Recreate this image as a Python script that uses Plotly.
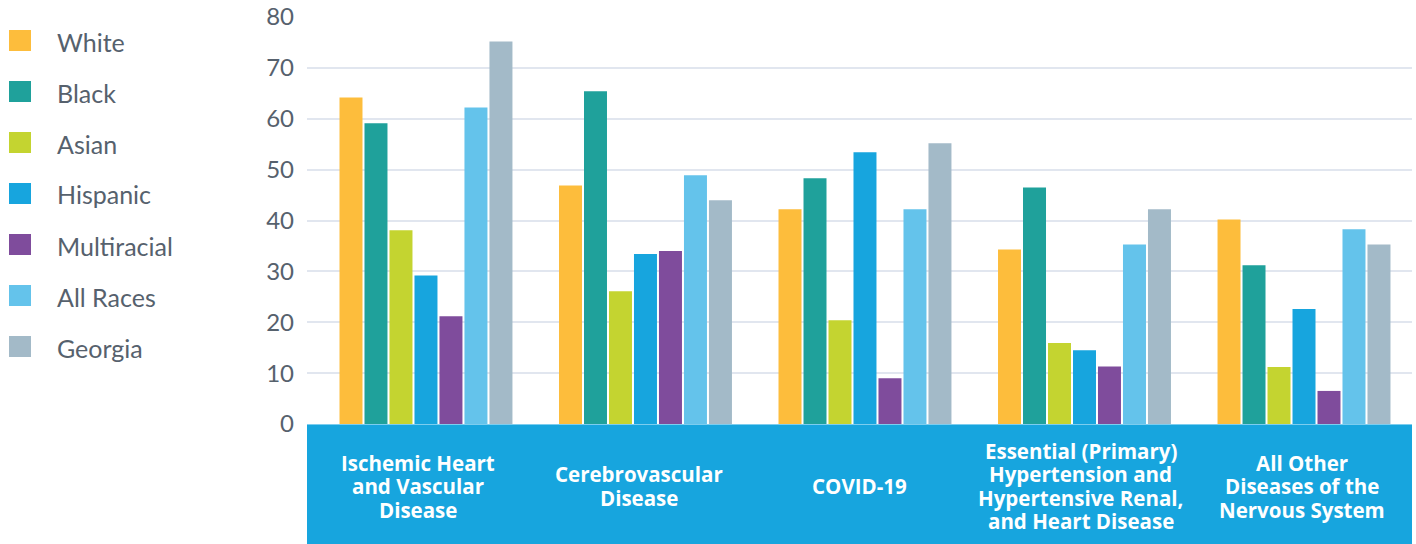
import plotly.graph_objects as go

# Causes of death (rate), grouped by race/ethnicity
categories = [
    "Ischemic Heart<br>and Vascular<br>Disease",
    "Cerebrovascular<br>Disease",
    "COVID-19",
    "Essential (Primary)<br>Hypertension and<br>Hypertensive Renal,<br>and Heart Disease",
    "All Other<br>Diseases of the<br>Nervous System",
]

series_names = ["White", "Black", "Asian", "Hispanic", "Multiracial", "All Races", "Georgia"]

white = [64.2, 46.9, 42.2, 34.3, 40.2]
black = [59.1, 65.4, 48.3, 46.5, 31.2]
asian = [38.1, 26.1, 20.4, 15.9, 11.2]
hispanic = [29.2, 33.4, 53.4, 14.5, 22.6]
multiracial = [21.2, 34.0, 9.0, 11.3, 6.5]
all_races = [62.2, 48.9, 42.2, 35.3, 38.3]
georgia = [75.2, 44.0, 55.2, 42.2, 35.3]

series_values = [white, black, asian, hispanic, multiracial, all_races, georgia]
colors = ["#FDBD3C", "#1FA19B", "#C4D430", "#17A5DE", "#7F4C9C", "#64C3EB", "#A3BAC8"]

y_ticks = [0, 10, 20, 30, 40, 50, 60, 70, 80]

W, H = 1416, 544
ML, MR, MT, MB = 307, 4, 17, 120
PW, PH = W - ML - MR, H - MT - MB

TEXT = "#56616d"
BAND = "#17A5DE"
FONT = "Lato"
LABEL_FONT = "Open Sans"


def px_x(p):
    return (p - ML) / PW


def px_y(p):
    return (H - MB - p) / PH


fig = go.Figure()
x_pos = list(range(len(categories)))
for name, vals, col in zip(series_names, series_values, colors):
    fig.add_trace(go.Bar(
        x=x_pos, y=vals, name=name, marker=dict(color=col, line=dict(width=0)),
        showlegend=False, hoverinfo="y+name",
    ))

shapes = []
annotations = []

# Category band under the axis
shapes.append(dict(type="rect", xref="paper", yref="paper", x0=0, x1=1,
                   y0=px_y(H), y1=0, fillcolor=BAND, line=dict(width=0), layer="below"))

# Legend built from shapes and text
for k, (name, col) in enumerate(zip(series_names, colors)):
    cy = 40.5 + 51 * k
    shapes.append(dict(type="rect", xref="paper", yref="paper",
                       x0=px_x(9), x1=px_x(31), y0=px_y(cy + 10.5), y1=px_y(cy - 10.5),
                       fillcolor=col, line=dict(width=0)))
    annotations.append(dict(xref="paper", yref="paper", x=px_x(55), y=px_y(cy),
                            text=name, showarrow=False, xanchor="left", yanchor="middle",
                            yshift=-1, font=dict(family=FONT, size=25, color=TEXT)))

# Category labels inside the band, one annotation per line
n_cat = len(categories)
for i, label in enumerate(categories):
    lines = label.split("<br>")
    n = len(lines)
    for j, line in enumerate(lines):
        annotations.append(dict(
            xref="paper", yref="paper", x=(i + 0.5) / n_cat, y=px_y(486),
            text=line, showarrow=False, xanchor="center", yanchor="middle",
            yshift=-(j - (n - 1) / 2) * 23.5,
            font=dict(family=LABEL_FONT, size=20.5, color="white", weight=700),
        ))

fig.update_layout(
    width=W, height=H,
    margin=dict(l=ML, r=MR, t=MT, b=MB, pad=0, autoexpand=False),
    paper_bgcolor="white", plot_bgcolor="white",
    barmode="group", bargap=0.203, bargroupgap=0.08,
    showlegend=False,
    shapes=shapes, annotations=annotations,
    font=dict(family=FONT, color=TEXT),
)
fig.update_xaxes(range=[-0.542, 4.492], showticklabels=False, showgrid=False,
                 zeroline=False, showline=True, linecolor="#7ccdef", linewidth=1,
                 fixedrange=True, automargin=False)
fig.update_yaxes(range=[0, 80], tickvals=y_ticks, ticktext=[str(v) for v in y_ticks],
                 showgrid=True, gridcolor="#e1e6ef", gridwidth=2, zeroline=False,
                 tickfont=dict(family=FONT, size=24, color=TEXT),
                 ticklabelstandoff=12, fixedrange=True, automargin=False)

fig.write_html("out.html")
